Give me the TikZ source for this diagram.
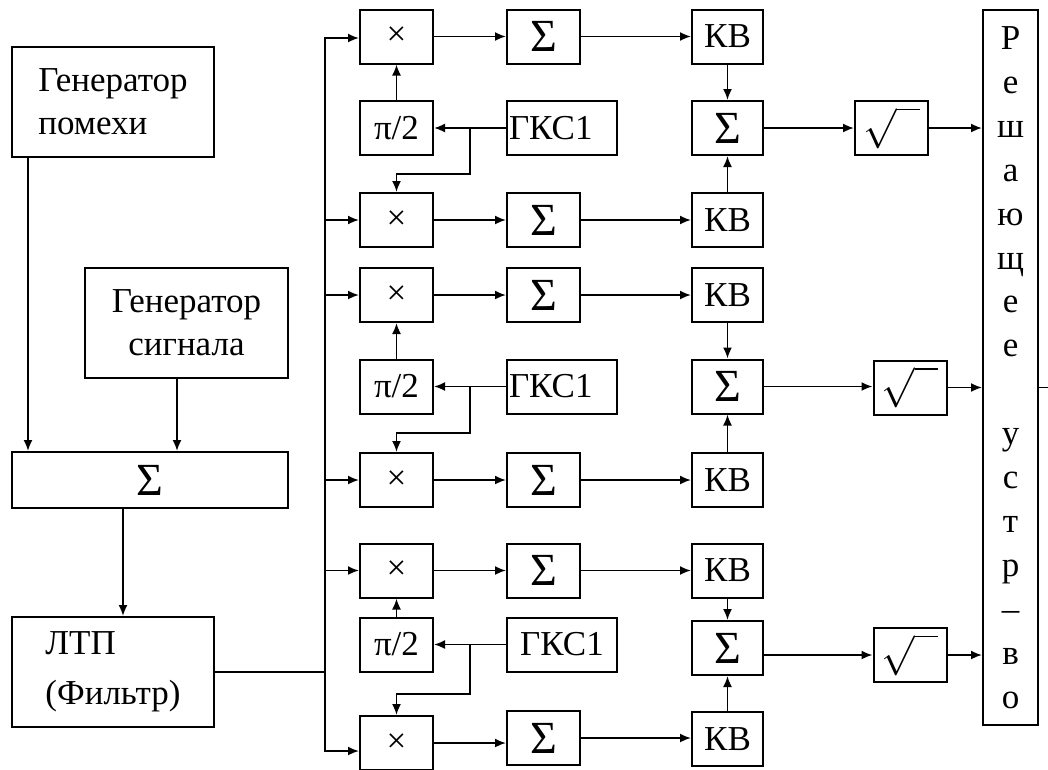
\RequirePackage{fix-cm}
\documentclass[tikz,border=0pt]{standalone}
\usepackage{fontspec}
\setmainfont{Liberation Serif}
\usetikzlibrary{arrows.meta}
\newcommand{\sgm}{{\fontsize{46}{46}\selectfont Σ}}
\newcommand{\rt}{{\fontsize{40}{40}\selectfont$\sqrt{\hphantom{n}}$}}

\begin{document}
\begin{tikzpicture}[x=1pt,y=-1pt,
    blk/.style={draw,line width=2pt,inner sep=0pt,minimum width=73pt,minimum height=54pt,font=\fontsize{35}{43}\selectfont},
    arr/.style={line width=1.8pt,-{Latex[length=11pt,width=9pt]}},
    ln/.style={line width=1.8pt}]
            \useasboundingbox (0,0) rectangle (1048,769);
            \clip (0,0) rectangle (1048,769);

            % left part
            \node[blk,minimum width=202pt,minimum height=110pt,align=left] (gp) at (113,102) {Генератор\\помехи};
            \node[blk,minimum width=203pt,minimum height=110pt,align=center] (gs) at (186.5,323) {Генератор\\сигнала};
            \node[blk,minimum width=276pt,minimum height=56pt] (s0) at (150,480) {\sgm};
            \node[blk,minimum width=202pt,minimum height=110pt,align=left,font=\fontsize{35}{50}\selectfont] (ltp) at (113,672) {ЛТП\\(Фильтр)};

            % channel 1
            \node[blk] (m1) at (396.5,36.5) {×};
            \node[blk] (a1) at (543.5,36.5) {\sgm};
            \node[blk,minimum width=71pt] (k1) at (727.5,36.5) {КВ};
            \node[blk] (p1) at (396.5,128) {π/2};
            \node[blk,inner xsep=2pt,text width=106pt,align=left] (g1) at (562,128) {ГКС1};
            \node[blk,minimum width=71pt] (c1) at (727.5,128) {\sgm};
            \node[blk] (r1) at (891.5,128) {\rt};
            \node[blk] (m2) at (396.5,220) {×};
            \node[blk] (a2) at (543.5,220) {\sgm};
            \node[blk,minimum width=71pt] (k2) at (727.5,220) {КВ};

            % channel 2
            \node[blk] (m3) at (396.5,295) {×};
            \node[blk] (a3) at (543.5,295) {\sgm};
            \node[blk,minimum width=71pt] (k3) at (727.5,295) {КВ};
            \node[blk] (p2) at (396.5,386.5) {π/2};
            \node[blk,inner xsep=2pt,text width=106pt,align=left] (g2) at (562,386.5) {ГКС1};
            \node[blk,minimum width=71pt] (c2) at (727.5,386.5) {\sgm};
            \node[blk] (r2) at (910,387.5) {\rt};
            \node[blk] (m4) at (396.5,480) {×};
            \node[blk] (a4) at (543.5,480) {\sgm};
            \node[blk,minimum width=71pt] (k4) at (727.5,480) {КВ};

            % channel 3
            \node[blk] (m5) at (396.5,570.5) {×};
            \node[blk] (a5) at (543.5,570.5) {\sgm};
            \node[blk,minimum width=71pt] (k5) at (727.5,570.5) {КВ};
            \node[blk] (p3) at (396.5,644.5) {π/2};
            \node[blk,minimum width=110pt] (g3) at (562,644.5) {ГКС1};
            \node[blk,minimum width=71pt] (c3) at (727.5,648) {\sgm};
            \node[blk] (r3) at (910,655) {\rt};
            \node[blk] (m6) at (396.5,743) {×};
            \node[blk] (a6) at (543.5,738) {\sgm};
            \node[blk,minimum width=71pt] (k6) at (727.5,739) {КВ};

            % decision device
            \node[blk,minimum width=55pt,minimum height=715pt,align=center,font=\fontsize{35}{43.9}\selectfont] (dec) at (1010.5,367.5)
                {Р\\е\\ш\\а\\ю\\щ\\е\\е\\\mbox{}\\у\\с\\т\\р\\–\\в\\о};

            % connections, left part
            \draw[arr] ([xshift=17pt]gp.south west) -- ([xshift=17pt]s0.north west);
            \draw[arr] ([xshift=-9.5pt]gs.south) coordinate (t1) -- (t1 |- s0.north);
            \draw[arr] ([xshift=-27pt]s0.south) coordinate (t2) -- (t2 |- ltp.north);
            \coordinate (bt) at (325,38);
            \coordinate (bb) at (325,751);
            \draw[ln] (ltp.east) -- (ltp.east -| bt);
            \draw[arr] (bb) -- (bt) -- (bt -| m1.west);
            \draw[arr] (bt) -- (bb) -- (bb -| m6.west);
            \draw[arr] (m2.west -| bt) -- (m2.west);
            \draw[arr] (m3.west -| bt) -- (m3.west);
            \draw[arr] (m4.west -| bt) -- (m4.west);
            \draw[arr] (m5.west -| bt) -- (m5.west);

            % channel 1
            \draw[arr] (m1) -- (a1);
            \draw[arr] (a1) -- (k1);
            \draw[arr] (m2) -- (a2);
            \draw[arr] (a2) -- (k2);
            \draw[arr] (p1) -- (m1);
            \draw[arr] (g1) -- (p1);
            \draw[arr] ([xshift=-36pt]g1.west) |- ([yshift=18pt]m2.north) -- (m2.north);
            \draw[arr] (k1) -- (c1);
            \draw[arr] (k2) -- (c1);
            \draw[arr] (c1) -- (r1);
            \draw[arr] (r1.east) -- (r1.east -| dec.west);

            % channel 2
            \draw[arr] (m3) -- (a3);
            \draw[arr] (a3) -- (k3);
            \draw[arr] (m4) -- (a4);
            \draw[arr] (a4) -- (k4);
            \draw[arr] (p2) -- (m3);
            \draw[arr] (g2) -- (p2);
            \draw[arr] ([xshift=-36pt]g2.west) |- ([yshift=19pt]m4.north) -- (m4.north);
            \draw[arr] (k3) -- (c2);
            \draw[arr] (k4) -- (c2);
            \draw[arr] (c2.east) -- (c2.east -| r2.west);
            \draw[arr] (r2.east) -- (r2.east -| dec.west);
            \draw[ln] (dec.east |- r2.east) -- ++(14,0);

            % channel 3
            \draw[arr] (m5) -- (a5);
            \draw[arr] (a5) -- (k5);
            \draw[arr] (m6.east) -- (m6.east -| a6.west);
            \draw[arr] (a6.east) -- (a6.east -| k6.west);
            \draw[arr] (p3) -- (m5);
            \draw[arr] (g3) -- (p3);
            \draw[arr] ([xshift=-36pt]g3.west) |- ([yshift=21pt]m6.north) -- (m6.north);
            \draw[arr] (k5) -- (c3);
            \draw[arr] (k6) -- (c3);
            \draw[arr] (r3.west -| c3.east) -- (r3.west);
            \draw[arr] (r3.east) -- (r3.east -| dec.west);
\end{tikzpicture}
\end{document}
